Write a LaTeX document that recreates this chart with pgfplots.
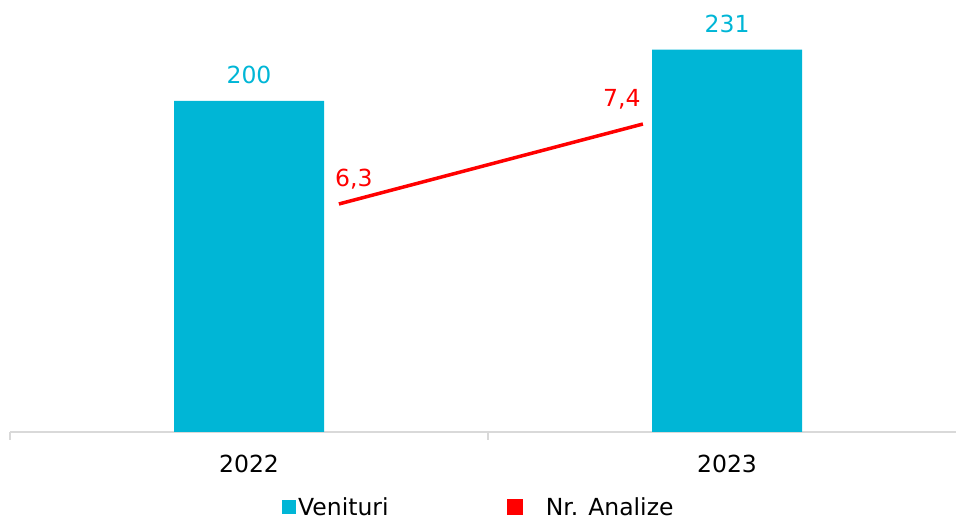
\documentclass[border=0pt]{standalone}
\usepackage{fontspec}
\setmainfont{DejaVu Sans}
\usepackage{pgfplots}
\pgfplotsset{compat=1.18}
\definecolor{cVen}{HTML}{00B6D6}
\definecolor{cAxis}{HTML}{D9D9D9}
\definecolor{cRed}{HTML}{FF0000}

\begin{document}
\begin{tikzpicture}
\useasboundingbox (0pt,0pt) rectangle (956pt,521pt);
\begin{axis}[
  at={(10pt,89pt)}, anchor=south west, scale only axis,
  width=946pt, height=432pt,
  font=\fontsize{23.5}{28}\selectfont,
  /pgf/number format/assume math mode=true,
  xmin=-0.5, xmax=1.479, ymin=0, ymax=261,
  axis x line=bottom, axis y line=none,
  axis line style={cAxis, line width=2pt, -},
  xtick={-0.5,0.5}, xticklabels={},
  major tick length=8pt, tick align=outside,
  tick style={cAxis, line width=2pt},
  extra x ticks={0,1}, extra x tick labels={2022,2023},
  extra x tick style={major tick length=0pt,
    tick label style={anchor=north, inner sep=0pt, yshift=-23pt, text=black}},
  ytick=\empty,
  legend style={draw=none, fill=none, at={(axis description cs:0.2875,-0.174)},
    anchor=west, legend columns=2, inner sep=0pt,
    nodes={inner sep=2pt},
    /tikz/every even column/.append style={column sep=116pt}},
]
\addplot[ybar, bar width=150pt, fill=cVen, draw=none,
  nodes near coords, point meta=y,
  nodes near coords style={text=cVen, anchor=south, inner sep=0pt, yshift=17pt},
  legend image code/.code={\fill[cVen] (0pt,-7pt) rectangle (14pt,7pt);}]
  coordinates {(0,200) (1,231)};
\addlegendentry{Venituri}
\addlegendimage{legend image code/.code={\fill[cRed] (0pt,-7.5pt) rectangle (15pt,7.5pt); \path[draw=none, fill=none] (0pt,0pt) rectangle (37pt,0.1pt);}}
\addlegendentry{Nr. Analize}
\end{axis}
\begin{axis}[
  at={(10pt,89pt)}, anchor=south west, scale only axis,
  width=946pt, height=432pt,
  font=\fontsize{23.5}{28}\selectfont,
  xmin=-0.5, xmax=1.479, ymin=3.164, ymax=9.106,
  hide x axis, hide y axis,
  visualization depends on={\thisrow{dx} \as \dx},
]
\addplot[cRed, line width=3.5pt, no markers,
  nodes near coords, point meta=explicit symbolic,
  nodes near coords style={text=cRed, anchor=south, inner sep=0pt, yshift=13pt, xshift=\dx pt}]
  table[x=x, y=y, meta=lab] {
x     y    lab  dx
0.188 6.3  6,3  15
0.824 7.4  7,4  -21
};
\end{axis}
\end{tikzpicture}
\end{document}
